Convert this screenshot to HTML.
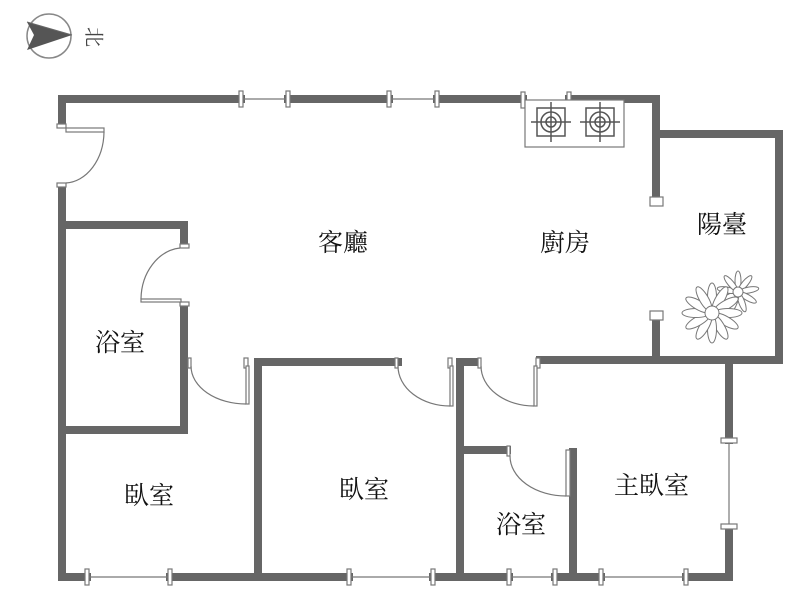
<!DOCTYPE html>
<html><head><meta charset="utf-8"><style>
body{margin:0;background:#fff;width:800px;height:610px;overflow:hidden}
text{font-family:"Liberation Serif","Noto Serif CJK SC",serif;font-size:25px;fill:#111}
</style></head><body>
<svg width="800" height="610" viewBox="0 0 800 610">
<circle cx="49" cy="36" r="22" fill="none" stroke="#888" stroke-width="1.5"/>
<polygon points="27,22 72,35 27,50 34,35" fill="#555"/>
<line x1="27" y1="22" x2="72" y2="35" stroke="#666"/>
<text x="78" y="36" transform="rotate(90 87 36)" style="font-size:20px;fill:#444">北</text>
<g stroke="#666" stroke-width="8" fill="none" stroke-linecap="square">
<line x1="62" y1="99" x2="241" y2="99"/>
<line x1="288" y1="99" x2="389" y2="99"/>
<line x1="437" y1="99" x2="523" y2="99"/>
<line x1="569" y1="99" x2="656" y2="99"/>
<line x1="656" y1="99" x2="656" y2="196"/>
<line x1="656" y1="134" x2="779" y2="134"/>
<line x1="779" y1="134" x2="779" y2="360"/>
<line x1="656" y1="320" x2="656" y2="360"/>
<line x1="540" y1="360" x2="779" y2="360"/>
<line x1="62" y1="99" x2="62" y2="124"/>
<line x1="62" y1="187" x2="62" y2="577"/>
<line x1="62" y1="225" x2="184" y2="225"/>
<line x1="184" y1="225" x2="184" y2="244"/>
<line x1="184" y1="306" x2="184" y2="430"/>
<line x1="62" y1="430" x2="184" y2="430"/>
<line x1="258" y1="362" x2="398" y2="362"/>
<line x1="258" y1="362" x2="258" y2="577"/>
<line x1="460" y1="362" x2="476" y2="362"/>
<line x1="460" y1="362" x2="460" y2="577"/>
<line x1="460" y1="450" x2="507" y2="450"/>
<line x1="573" y1="452" x2="573" y2="577"/>
<line x1="729" y1="362" x2="729" y2="440"/>
<line x1="729" y1="528" x2="729" y2="577"/>
<line x1="62" y1="577" x2="87" y2="577"/>
<line x1="170" y1="577" x2="349" y2="577"/>
<line x1="433" y1="577" x2="509" y2="577"/>
<line x1="555" y1="577" x2="601" y2="577"/>
<line x1="686" y1="577" x2="729" y2="577"/>
</g>
<g stroke="#777" stroke-width="1.2" fill="#fff">
<line x1="241" y1="99" x2="288" y2="99"/><line x1="389" y1="99" x2="437" y2="99"/>
<rect x="239" y="91" width="4" height="16"/><rect x="286" y="91" width="4" height="16"/>
<rect x="387" y="91" width="4" height="16"/><rect x="435" y="91" width="4" height="16"/>
<rect x="521" y="92" width="4" height="16"/><rect x="567" y="92" width="4" height="16"/>
<line x1="87" y1="577" x2="170" y2="577"/><line x1="349" y1="577" x2="433" y2="577"/>
<line x1="509" y1="577" x2="555" y2="577"/><line x1="601" y1="577" x2="686" y2="577"/>
<rect x="85" y="569" width="4" height="16"/><rect x="168" y="569" width="4" height="16"/>
<rect x="347" y="569" width="4" height="16"/><rect x="431" y="569" width="4" height="16"/>
<rect x="507" y="569" width="4" height="16"/><rect x="553" y="569" width="4" height="16"/>
<rect x="599" y="569" width="4" height="16"/><rect x="684" y="569" width="4" height="16"/>
<line x1="729" y1="440" x2="729" y2="528"/>
<rect x="721" y="438" width="16" height="5"/><rect x="721" y="524" width="16" height="5"/>
<rect x="650" y="197" width="13" height="9"/><rect x="650" y="311" width="13" height="9"/>
<rect x="57" y="124" width="9" height="4"/><rect x="57" y="183" width="9" height="4"/>
<rect x="66" y="128" width="38" height="4"/><path d="M104,132 A40,52 0 0 1 66,183" fill="none"/>
<rect x="180" y="244" width="9" height="4"/><rect x="180" y="302" width="9" height="4"/>
<rect x="141" y="299" width="40" height="3"/><path d="M141,299 A43,52 0 0 1 180,248" fill="none"/>
<rect x="188" y="358" width="3" height="10"/><rect x="244" y="358" width="4" height="10"/><rect x="246" y="366" width="3" height="38"/>
<path d="M191,366 A55,38 0 0 0 246,404" fill="none"/>
<rect x="395" y="358" width="3" height="10"/><rect x="448" y="358" width="4" height="10"/><rect x="450" y="366" width="3" height="40"/>
<path d="M398,366 A52,40 0 0 0 450,406" fill="none"/>
<rect x="478" y="358" width="3" height="10"/><rect x="536" y="358" width="4" height="10"/><rect x="534" y="366" width="3" height="40"/>
<path d="M481,366 A53,40 0 0 0 534,406" fill="none"/>
<rect x="507" y="446" width="3" height="10"/><rect x="566" y="450" width="4" height="46"/>
<path d="M510,456 A56,40 0 0 0 566,496" fill="none"/>
<rect x="525" y="100" width="99" height="47"/>
</g>
<g stroke="#555" stroke-width="1.5" fill="none">
<rect x="537" y="108" width="28" height="28"/><circle cx="551" cy="122" r="10"/><circle cx="551" cy="122" r="5"/>
<line x1="531" y1="122" x2="571" y2="122"/><line x1="551" y1="102" x2="551" y2="142"/>
<rect x="586" y="108" width="28" height="28"/><circle cx="600" cy="122" r="10"/><circle cx="600" cy="122" r="5"/>
<line x1="580" y1="122" x2="620" y2="122"/><line x1="600" y1="102" x2="600" y2="142"/>
</g>
<g stroke="#777" stroke-width="1" fill="#fff">
<g transform="translate(738,292)">
<ellipse cx="0" cy="-11" rx="3" ry="10"/><ellipse cx="0" cy="-11" rx="3" ry="10" transform="rotate(40)"/>
<ellipse cx="0" cy="-11" rx="3" ry="10" transform="rotate(80)"/><ellipse cx="0" cy="-11" rx="3" ry="10" transform="rotate(120)"/>
<ellipse cx="0" cy="-11" rx="3" ry="10" transform="rotate(160)"/><ellipse cx="0" cy="-11" rx="3" ry="10" transform="rotate(200)"/>
<ellipse cx="0" cy="-11" rx="3" ry="10" transform="rotate(240)"/><ellipse cx="0" cy="-11" rx="3" ry="10" transform="rotate(280)"/>
<ellipse cx="0" cy="-11" rx="3" ry="10" transform="rotate(320)"/><circle r="5"/>
</g>
<g transform="translate(712,313)">
<ellipse cx="0" cy="-16" rx="4.5" ry="14"/><ellipse cx="0" cy="-16" rx="4.5" ry="14" transform="rotate(30)"/>
<ellipse cx="0" cy="-16" rx="4.5" ry="14" transform="rotate(60)"/><ellipse cx="0" cy="-16" rx="4.5" ry="14" transform="rotate(90)"/>
<ellipse cx="0" cy="-16" rx="4.5" ry="14" transform="rotate(120)"/><ellipse cx="0" cy="-16" rx="4.5" ry="14" transform="rotate(150)"/>
<ellipse cx="0" cy="-16" rx="4.5" ry="14" transform="rotate(180)"/><ellipse cx="0" cy="-16" rx="4.5" ry="14" transform="rotate(210)"/>
<ellipse cx="0" cy="-16" rx="4.5" ry="14" transform="rotate(240)"/><ellipse cx="0" cy="-16" rx="4.5" ry="14" transform="rotate(270)"/>
<ellipse cx="0" cy="-16" rx="4.5" ry="14" transform="rotate(300)"/><ellipse cx="0" cy="-16" rx="4.5" ry="14" transform="rotate(330)"/>
<circle r="7"/>
</g>
</g>
<text x="318" y="251">客廳</text>
<text x="540" y="251">廚房</text>
<text x="697" y="233">陽臺</text>
<text x="95" y="351">浴室</text>
<text x="124" y="504">臥室</text>
<text x="339" y="498">臥室</text>
<text x="496" y="533">浴室</text>
<text x="614" y="494">主臥室</text>
</svg>
</body></html>
